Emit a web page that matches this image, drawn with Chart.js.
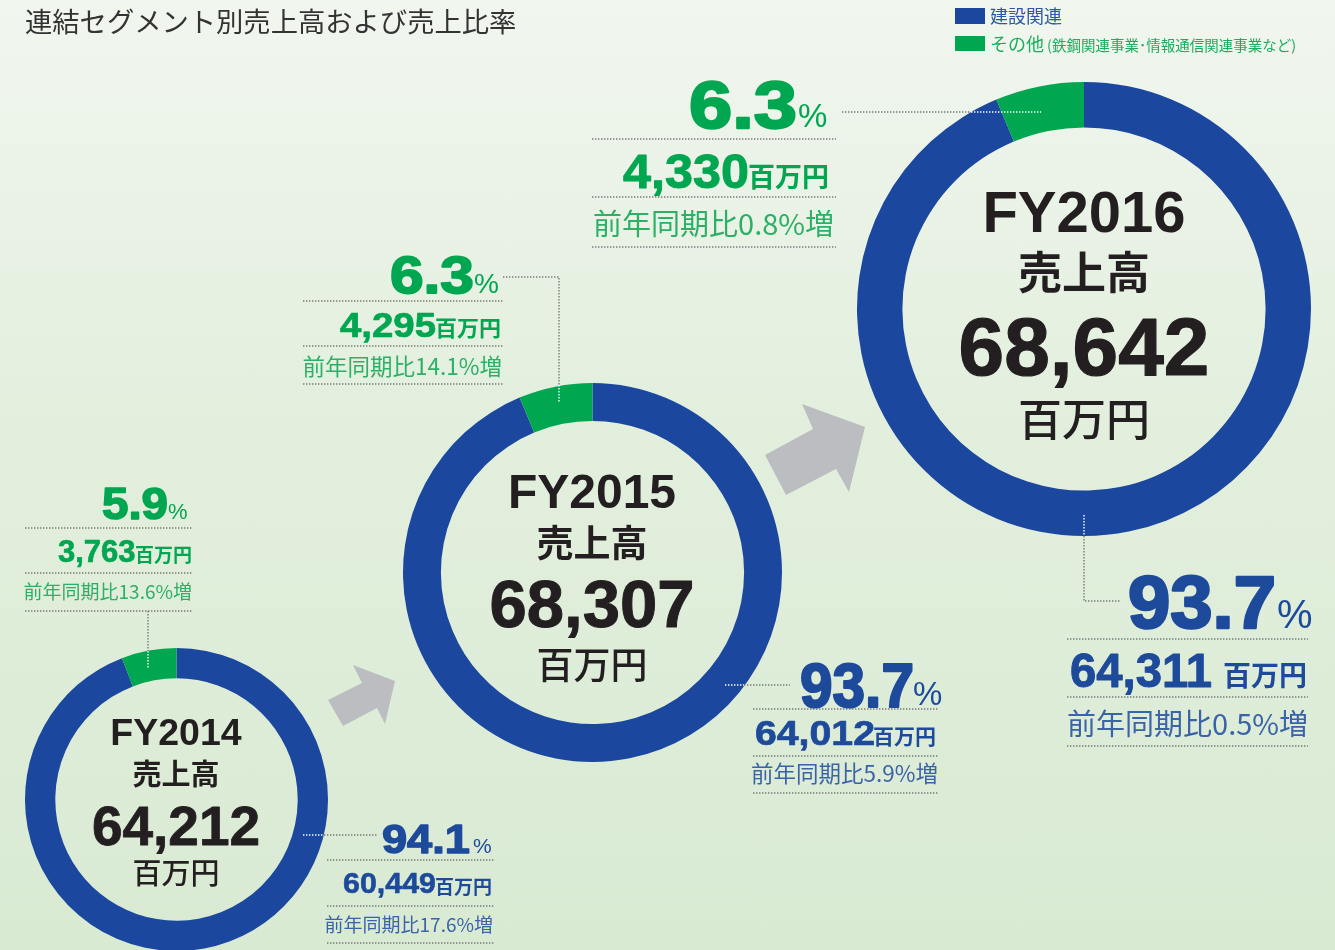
<!DOCTYPE html>
<html lang="ja">
<head>
<meta charset="utf-8">
<title>連結セグメント別売上高および売上比率</title>
<script src="https://cdn.jsdelivr.net/npm/chart.js@4.4.1/dist/chart.umd.min.js"></script>
<style>
  html, body { margin: 0; padding: 0; }
  body {
    width: 1335px; height: 950px; overflow: hidden; position: relative;
    background: linear-gradient(to bottom, #f1f6ef 0%, #e2efdd 45%, #d9ead3 100%);
  }
  canvas.ring { position: absolute; }
  #overlay { position: absolute; left: 0; top: 0; }
</style>
</head>
<body>
<canvas class="ring" id="ring0" width="303" height="303" style="left:25px;top:648px"></canvas>
<canvas class="ring" id="ring1" width="379" height="379" style="left:403px;top:383px"></canvas>
<canvas class="ring" id="ring2" width="454" height="454" style="left:857px;top:82px"></canvas>
<svg id="overlay" width="1335" height="950" xmlns="http://www.w3.org/2000/svg"></svg>

<script>
// データ（百万円）
const years = ['FY2014', 'FY2015', 'FY2016'];
const segmentNames = ['建設関連', 'その他'];
const totalSales = [64212, 68307, 68642];
const constructionSales = [60449, 64012, 64311];
const otherSales = [3763, 4295, 4330];
const constructionShare = [94.1, 93.7, 93.7];
const otherShare = [5.9, 6.3, 6.3];
const constructionGrowth = [17.6, 5.9, 0.5];
const otherGrowth = [13.6, 14.1, 0.8];

const BLUE = '#1b479e';
const GREEN = '#00a650';
const DARK = '#231f20';
const NUM = "'Liberation Sans', Arial, sans-serif";
const JP = "'Noto Sans CJK JP', 'Noto Sans', sans-serif";

// ドーナツ
years.forEach((y, i) => {
    new Chart(document.getElementById('ring' + i), {
        type: 'doughnut',
        data: {
            labels: segmentNames,
            datasets: [{
                data: [constructionSales[i], otherSales[i]],
                backgroundColor: [BLUE, GREEN],
                borderWidth: 0
            }]
        },
        options: {
            responsive: false,
            animation: false,
            devicePixelRatio: 1,
            cutout: '80%',
            events: [],
            layout: { padding: 0 },
            plugins: { legend: { display: false }, tooltip: { enabled: false } }
        }
    });
});

// SVG helpers
const NS = 'http://www.w3.org/2000/svg';
const svg = document.getElementById('overlay');
function el(tag, attrs) {
    const e = document.createElementNS(NS, tag);
    for (const k in attrs) e.setAttribute(k, attrs[k]);
    svg.appendChild(e);
    return e;
}
function txt(x, y, s, size, fill, o = {}) {
    const e = el('text', {
        x: x, y: y, 'font-size': size, fill: fill,
        'font-family': o.font || NUM,
        'font-weight': o.weight || 700,
        'text-anchor': o.anchor || 'start'
    });
    e.textContent = s;
    if (o.heavy) {
        e.setAttribute('stroke', fill);
        e.setAttribute('stroke-width', o.heavy);
        e.setAttribute('stroke-linejoin', 'round');
    }
    if (o.len) {
        // 横幅だけ合わせる
        const k = o.len / e.getComputedTextLength();
        e.setAttribute('transform', `translate(${x},${y}) scale(${k},1) translate(${-x},${-y})`);
    }
    return e;
}
function dots(pts, color) {
    el('polyline', {
        points: pts.map(p => p.join(',')).join(' '),
        fill: 'none', stroke: color || '#7a7a7a', 'stroke-width': 1.4,
        'stroke-dasharray': '1.4,1.6'
    });
}
const fmt = n => n.toLocaleString('en-US');

// タイトル・凡例
txt(25, 32, '連結セグメント別売上高および売上比率', 27.3, '#333', { font: JP, weight: 400 });
el('rect', { x: 955, y: 8, width: 30, height: 16, fill: BLUE });
txt(990, 23, segmentNames[0], 18, '#2c58a6', { font: JP, weight: 400 });
el('rect', { x: 955, y: 36, width: 30, height: 15, fill: GREEN });
const t = txt(990, 51, segmentNames[1], 18, '#1aae5c', { font: JP, weight: 400 });
const sub = document.createElementNS(NS, 'tspan');
sub.setAttribute('font-size', 14.5);
sub.setAttribute('dx', 3);
sub.textContent = '(鉄鋼関連事業･情報通信関連事業など)';
t.appendChild(sub);

// 矢印
el('polygon', { points: '328,700 362,683 353,665 395,681 385,724 377,708 343,726', fill: '#bcbdc1' });
el('polygon', { points: '765,455 813,429 802,404 865,427 849,492 836,469 786,495', fill: '#bcbdc1' });

// ラベル配置（位置のみ）
const layout = [
    {
        center: { cx: 176, fy: [745, 37.5], label: [785, 29], total: [845, 55], unit: [884, 29] },
        green: { share: [102, 519, 45, 66], pct: [168, 519, 22], amt: [58, 562, 31], unit: [135, 561.5, 19],
                 growth: [192, 598.5, 19], lines: [528, 573, 611], lx: [25, 192],
                 conn: [[[148, 611], [148, 651]], [[148, 651], [148, 668]]] },
        blue: { share: [382, 853, 40, 88], pct: [473, 853, 21], amt: [343, 893, 29, 93], unit: [435, 893.5, 19],
                growth: [493, 931.5, 19], lines: [860, 906, 943], lx: [327, 494],
                conn: [[[324, 835], [377, 835]], [[303, 835], [324, 835]]] }
    },
    {
        center: { cx: 592, fy: [508, 48], label: [557, 37], total: [627, 67], unit: [679, 37] },
        green: { share: [390, 293, 52, 84], pct: [474, 293, 28], amt: [340, 337, 35, 96], unit: [435, 336, 22],
                 growth: [502, 375, 22.5], lines: [301, 346, 384], lx: [303, 503],
                 conn: [[[503, 277], [559, 277], [559, 385]], [[559, 385], [559, 403]]] },
        blue: { share: [800, 707, 62, 114], pct: [913, 705, 33], amt: [755, 745, 36, 120], unit: [873, 744, 21],
                growth: [938, 782, 22.5], lines: [709, 756, 793], lx: [753, 938],
                conn: [[[744, 685], [790, 685]], [[725, 685], [744, 685]]] }
    },
    {
        center: { cx: 1084, fy: [232, 58], label: [289, 44], total: [375, 82], unit: [436, 44] },
        green: { share: [689, 128, 67, 108], pct: [798, 127, 33], amt: [623, 188, 49, 126], unit: [748, 187, 27],
                 growth: [834, 235, 29], lines: [139, 197, 247], lx: [592, 836],
                 conn: [[[842, 112], [971, 112]], [[971, 112], [1041, 112]]] },
        blue: { share: [1128, 628, 74, 148], pct: [1277, 628, 40], amt: [1070, 687, 49, 142], unit: [1223, 686, 28],
                growth: [1308, 735, 29], lines: [639, 697, 746], lx: [1067, 1308],
                conn: [[[1084, 536], [1084, 601], [1121, 601]], [[1084, 515], [1084, 536]]] }
    }
];

function block(b, share, amount, growth, color, soft) {
    b.lines.forEach(y => dots([[b.lx[0], y], [b.lx[1], y]]));
    dots(b.conn[0]);
    dots(b.conn[1], '#ffffff');
    txt(b.share[0], b.share[1], share.toFixed(1), b.share[2], color,
        { len: b.share[3], heavy: b.share[2] * 0.035 });
    txt(b.pct[0], b.pct[1], '%', b.pct[2], color, { weight: 400 });
    txt(b.amt[0], b.amt[1], fmt(amount), b.amt[2], color,
        { len: b.amt[3], heavy: b.amt[2] * 0.02 });
    txt(b.unit[0], b.unit[1], '百万円', b.unit[2], color, { font: JP });
    txt(b.growth[0], b.growth[1], '前年同期比' + growth.toFixed(1) + '%増', b.growth[2], soft,
        { font: JP, weight: 400, anchor: 'end' });
}

layout.forEach((L, i) => {
    const c = L.center;
    txt(c.cx, c.fy[0], years[i], c.fy[1], DARK, { anchor: 'middle' });
    txt(c.cx, c.label[0], '売上高', c.label[1], DARK, { font: JP, anchor: 'middle' });
    txt(c.cx, c.total[0], fmt(totalSales[i]), c.total[1], DARK, { anchor: 'middle', heavy: c.total[1] * 0.015 });
    txt(c.cx, c.unit[0], '百万円', c.unit[1], DARK, { font: JP, weight: 500, anchor: 'middle' });
    block(L.green, otherShare[i], otherSales[i], otherGrowth[i], GREEN, '#2db066');
    block(L.blue, constructionShare[i], constructionSales[i], constructionGrowth[i], '#1d4a9b', '#3b64a8');
});
</script>
</body>
</html>
